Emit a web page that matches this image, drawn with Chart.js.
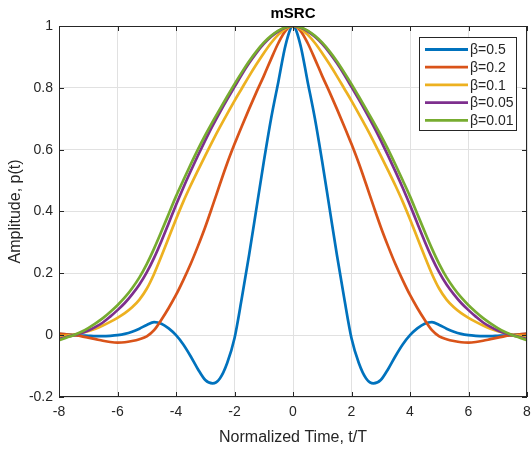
<!DOCTYPE html>
<html lang="en">
<head>
<meta charset="UTF-8">
<title>mSRC</title>
<style>
  html, body { margin: 0; padding: 0; background: #fff; }
</style>
</head>
<body>
<canvas id="chart" width="531" height="450"></canvas>

<script src="https://cdn.jsdelivr.net/npm/chart.js"></script>
<script>
// normalized time t/T
const timeAxis = [
  -8, -7.75, -7.5, -7.25, -7, -6.75, -6.5, -6.25, -6, -5.75, -5.5, -5.25, -5, -4.75, -4.5, -4.25,
  -4, -3.75, -3.5, -3.25, -3, -2.75, -2.5, -2.25, -2, -1.75, -1.5, -1.25, -1, -0.75, -0.5, -0.25,
  0,
  0.25, 0.5, 0.75, 1, 1.25, 1.5, 1.75, 2, 2.25, 2.5, 2.75, 3, 3.25, 3.5, 3.75,
  4, 4.25, 4.5, 4.75, 5, 5.25, 5.5, 5.75, 6, 6.25, 6.5, 6.75, 7, 7.25, 7.5, 7.75, 8
];

// amplitude p(t)
const beta05 = [
  0.004, 0.003, 0.001, -0.001, -0.002, -0.003, -0.003, -0.002, 0.0, 0.004, 0.011, 0.021, 0.033, 0.042, 0.037, 0.022,
  0.0, -0.03, -0.068, -0.11, -0.145, -0.156, -0.14, -0.09, -0.01, 0.12, 0.26, 0.41, 0.56, 0.70, 0.82, 0.94,
  1.0,
  0.94, 0.82, 0.70, 0.56, 0.41, 0.26, 0.12, -0.01, -0.09, -0.14, -0.156, -0.145, -0.11, -0.068, -0.03,
  0.0, 0.022, 0.037, 0.042, 0.033, 0.021, 0.011, 0.004, 0.0, -0.002, -0.003, -0.003, -0.002, -0.001, 0.001, 0.003, 0.004
];
const beta02 = [
  0.005, 0.003, 0.0, -0.003, -0.008, -0.013, -0.018, -0.022, -0.024, -0.023, -0.019, -0.013, -0.004, 0.016, 0.05, 0.088,
  0.13, 0.178, 0.23, 0.288, 0.35, 0.418, 0.488, 0.556, 0.618, 0.676, 0.732, 0.786, 0.838, 0.893, 0.945, 0.985,
  1.0,
  0.985, 0.945, 0.893, 0.838, 0.786, 0.732, 0.676, 0.618, 0.556, 0.488, 0.418, 0.35, 0.288, 0.23, 0.178,
  0.13, 0.088, 0.05, 0.016, -0.004, -0.013, -0.019, -0.023, -0.024, -0.022, -0.018, -0.013, -0.008, -0.003, 0.0, 0.003, 0.005
];
const beta01 = [
  -0.003, -0.001, 0.002, 0.007, 0.013, 0.021, 0.031, 0.043, 0.056, 0.071, 0.09, 0.115, 0.15, 0.198, 0.255, 0.315,
  0.375, 0.432, 0.484, 0.533, 0.581, 0.628, 0.673, 0.716, 0.758, 0.798, 0.838, 0.876, 0.912, 0.945, 0.972, 0.992,
  1.0,
  0.992, 0.972, 0.945, 0.912, 0.876, 0.838, 0.798, 0.758, 0.716, 0.673, 0.628, 0.581, 0.533, 0.484, 0.432,
  0.375, 0.315, 0.255, 0.198, 0.15, 0.115, 0.09, 0.071, 0.056, 0.043, 0.031, 0.021, 0.013, 0.007, 0.002, -0.001, -0.003
];
const beta005 = [
  -0.012, -0.006, 0.0, 0.006, 0.015, 0.027, 0.041, 0.06, 0.081, 0.104, 0.132, 0.164, 0.203, 0.25, 0.304, 0.362,
  0.421, 0.477, 0.53, 0.581, 0.63, 0.677, 0.721, 0.763, 0.803, 0.843, 0.88, 0.913, 0.942, 0.965, 0.983, 0.995,
  1.0,
  0.995, 0.983, 0.965, 0.942, 0.913, 0.88, 0.843, 0.803, 0.763, 0.721, 0.677, 0.63, 0.581, 0.53, 0.477,
  0.421, 0.362, 0.304, 0.25, 0.203, 0.164, 0.132, 0.104, 0.081, 0.06, 0.041, 0.027, 0.015, 0.006, 0.0, -0.006, -0.012
];
const beta001 = [
  -0.016, -0.008, 0.0, 0.01, 0.023, 0.038, 0.055, 0.075, 0.097, 0.122, 0.152, 0.187, 0.23, 0.28, 0.335, 0.392,
  0.449, 0.501, 0.552, 0.601, 0.647, 0.69, 0.731, 0.772, 0.812, 0.85, 0.886, 0.918, 0.946, 0.968, 0.985, 0.996,
  1.0,
  0.996, 0.985, 0.968, 0.946, 0.918, 0.886, 0.85, 0.812, 0.772, 0.731, 0.69, 0.647, 0.601, 0.552, 0.501,
  0.449, 0.392, 0.335, 0.28, 0.23, 0.187, 0.152, 0.122, 0.097, 0.075, 0.055, 0.038, 0.023, 0.01, 0.0, -0.008, -0.016
];

const seriesNames = ['β=0.5', 'β=0.2', 'β=0.1', 'β=0.05', 'β=0.01'];
const seriesValues = [beta05, beta02, beta01, beta005, beta001];
const xTicks = [-8, -6, -4, -2, 0, 2, 4, 6, 8];
const yTicks = [-0.2, 0, 0.2, 0.4, 0.6, 0.8, 1];

// matlab default colour order
const lineColors = ['#0072BD', '#D95319', '#EDB120', '#7E2F8E', '#77AC30'];
const axisColor = '#262626';
const FONT = "'Liberation Sans', Arial, Helvetica, sans-serif";

Chart.defaults.font.family = FONT;
Chart.defaults.color = axisColor;

// box round the axes, inward ticks, legend inside the plot
const matlabFrame = {
  id: 'matlabFrame',
  afterDatasetsDraw(chart) {
    const {ctx, chartArea: a, scales} = chart;
    ctx.save();
    ctx.strokeStyle = axisColor;
    ctx.lineWidth = 1;
    ctx.strokeRect(a.left + 0.5, a.top + 0.5, a.right - a.left - 1, a.bottom - a.top - 1);

    ctx.beginPath();
    scales.x.ticks.forEach(t => {
      const px = Math.round(scales.x.getPixelForValue(t.value)) + 0.5;
      ctx.moveTo(px, a.bottom); ctx.lineTo(px, a.bottom - 5);
      ctx.moveTo(px, a.top); ctx.lineTo(px, a.top + 5);
    });
    scales.y.ticks.forEach(t => {
      const py = Math.round(scales.y.getPixelForValue(t.value)) + 0.5;
      ctx.moveTo(a.left, py); ctx.lineTo(a.left + 5, py);
      ctx.moveTo(a.right, py); ctx.lineTo(a.right - 5, py);
    });
    ctx.stroke();

    // legend
    const w = 97, h = 93;
    const bx = a.right - 11 - w, by = a.top + 11;
    ctx.fillStyle = '#fff';
    ctx.fillRect(bx, by, w, h);
    ctx.strokeStyle = axisColor;
    ctx.strokeRect(bx + 0.5, by + 0.5, w, h);
    ctx.font = '14px ' + FONT;
    ctx.textBaseline = 'middle';
    ctx.textAlign = 'left';
    seriesNames.forEach((name, i) => {
      const ry = by + 12.5 + i * 17.7;
      ctx.strokeStyle = lineColors[i];
      ctx.lineWidth = 2.8;
      ctx.beginPath();
      ctx.moveTo(bx + 6, ry);
      ctx.lineTo(bx + 49, ry);
      ctx.stroke();
      ctx.fillStyle = axisColor;
      ctx.fillText(name, bx + 51, ry + 1);
    });
    ctx.restore();
  }
};

const datasets = seriesValues.map((vals, i) => ({
  label: seriesNames[i],
  data: timeAxis.map((t, k) => ({x: t, y: vals[k]})),
  borderColor: lineColors[i],
  borderWidth: 2.7,
  pointRadius: 0,
  fill: false,
  cubicInterpolationMode: 'monotone',
  order: seriesNames.length - i
}));

new Chart(document.getElementById('chart'), {
  type: 'line',
  data: {datasets},
  plugins: [matlabFrame],
  options: {
    responsive: false,
    animation: false,
    devicePixelRatio: 1,
    layout: {padding: {left: 0, right: 4, top: 0, bottom: 0}},
    plugins: {
      legend: {display: false},
      tooltip: {enabled: false},
      title: {
        display: true,
        text: 'mSRC',
        fullSize: false,
        color: '#000',
        font: {size: 15, weight: 'bold'},
        padding: {top: 5, bottom: 3}
      }
    },
    scales: {
      x: {
        type: 'linear',
        min: -8, max: 8,
        afterFit: s => { s.height = 53; s.paddingLeft = 0; s.paddingRight = 0; },
        afterBuildTicks: s => { s.ticks = xTicks.map(v => ({value: v})); },
        grid: {color: '#e1e1e1', drawTicks: false},
        border: {display: false},
        ticks: {font: {size: 14}, padding: 7, maxRotation: 0, color: axisColor},
        title: {display: true, text: 'Normalized Time, t/T', font: {size: 16}, padding: {top: 0, bottom: 3}, color: axisColor}
      },
      y: {
        type: 'linear',
        min: -0.2, max: 1,
        afterFit: s => { s.width = 59; s.paddingTop = 0; s.paddingBottom = 0; },
        afterBuildTicks: s => { s.ticks = yTicks.map(v => ({value: v})); },
        grid: {color: '#e1e1e1', drawTicks: false},
        border: {display: false},
        ticks: {font: {size: 14}, padding: 6, color: axisColor, callback: v => String(Number(v.toFixed(1)))},
        title: {display: true, text: 'Amplitude, p(t)', font: {size: 16}, padding: {top: 6, bottom: 0}, color: axisColor}
      }
    }
  }
});
</script>
</body>
</html>
